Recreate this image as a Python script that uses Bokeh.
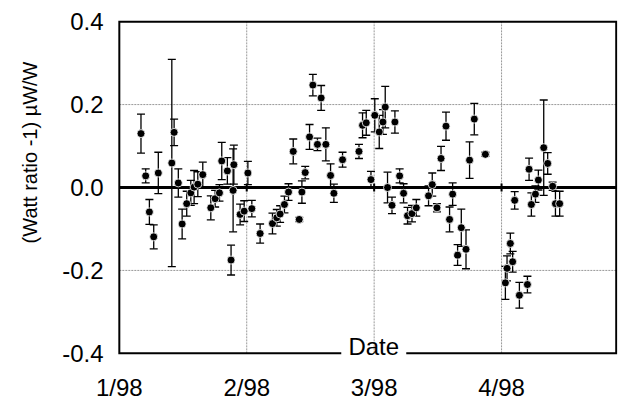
import math
from bokeh.plotting import figure
from bokeh.models import (ColumnDataSource, FixedTicker, NumeralTickFormatter,
                          Label, Range1d, Title)
from bokeh.embed import file_html
from bokeh.resources import INLINE

# x: months after 1/98 (0 = 1/98, 1 = 2/98, ...)
month = [0.170, 0.207, 0.236, 0.270, 0.306, 0.412, 0.430, 0.463, 0.493, 0.529,
         0.561, 0.587, 0.616, 0.655, 0.718, 0.752, 0.786, 0.804, 0.848, 0.877,
         0.893, 0.899, 0.948, 0.980, 1.009, 1.040, 1.105, 1.202, 1.236, 1.262,
         1.296, 1.328, 1.365, 1.412, 1.433, 1.459, 1.493, 1.519, 1.555, 1.584,
         1.621, 1.658, 1.684, 1.752, 1.881, 1.909, 1.938, 1.975, 2.005, 2.040,
         2.069, 2.087, 2.105, 2.140, 2.163, 2.200, 2.231, 2.262, 2.297, 2.331,
         2.427, 2.456, 2.493, 2.525, 2.564, 2.592, 2.616, 2.655, 2.684, 2.721,
         2.749, 2.786, 2.873, 3.030, 3.043, 3.069, 3.087, 3.103, 3.140, 3.203,
         3.216, 3.234, 3.266, 3.289, 3.331, 3.362, 3.401, 3.423, 3.456]
ratio = [0.130, 0.028, -0.059, -0.119, 0.035, 0.059, 0.133, 0.011, -0.088, -0.039,
         -0.013, 0.001, 0.008, 0.031, -0.049, -0.027, -0.013, 0.064, 0.040, -0.175,
         -0.007, 0.055, -0.065, -0.057, 0.035, -0.051, -0.111, -0.087, -0.073, -0.064,
         -0.041, -0.011, 0.087, -0.077, -0.011, 0.036, 0.122, 0.247, 0.104, 0.216,
         0.104, 0.029, -0.014, 0.067, 0.087, 0.150, 0.156, 0.019, 0.174, 0.134,
         0.158, 0.194, 0.000, -0.043, 0.158, 0.028, -0.014, -0.068, -0.063, -0.049,
         -0.020, 0.007, -0.049, 0.070, 0.148, -0.077, -0.016, -0.163, -0.097, -0.149,
         0.066, 0.165, 0.080, -0.230, -0.195, -0.135, -0.179, -0.031, -0.260, -0.234,
         0.044, -0.041, -0.016, 0.018, 0.096, 0.058, 0.003, -0.039, -0.039]
err = [0.047, 0.017, 0.030, 0.029, 0.050, 0.250, 0.032, 0.034, 0.036, 0.030,
       0.030, 0.040, 0.030, 0.030, 0.029, 0.020, 0.020, 0.045, 0.032, 0.036,
       0.100, 0.047, 0.025, 0.025, 0.028, 0.020, 0.023, 0.025, 0.020, 0.020,
       0.020, 0.020, 0.030, 0.005, 0.027, 0.015, 0.030, 0.026, 0.015, 0.030,
       0.040, 0.028, 0.022, 0.018, 0.017, 0.030, 0.030, 0.020, 0.040, 0.040,
       0.030, 0.050, 0.037, 0.020, 0.027, 0.017, 0.023, 0.020, 0.020, 0.020,
       0.024, 0.028, 0.010, 0.029, 0.034, 0.030, 0.027, 0.025, 0.045, 0.047,
       0.044, 0.038, 0.005, 0.040, 0.030, 0.025, 0.025, 0.021, 0.031, 0.020,
       0.027, 0.028, 0.020, 0.024, 0.115, 0.026, 0.010, 0.030, 0.030]

x_ticks = [0, 1, 2, 3]
x_tick_labels = ["1/98", "2/98", "3/98", "4/98"]
y_ticks = [-0.4, -0.2, 0.0, 0.2, 0.4]

X_MIN, X_MAX = 0.0, 3.9      # frame extent (months)
Y_MIN, Y_MAX = -0.4, 0.4     # frame extent
DATE_GAP = (1.742, 2.252)    # break in the bottom frame for the "Date" title

FONT = "Liberation Sans"

src = ColumnDataSource(dict(
    x=month, y=ratio,
    upper=[v + e for v, e in zip(ratio, err)],
    lower=[v - e for v, e in zip(ratio, err)],
))

p = figure(frame_width=502, frame_height=340, output_backend="svg",
           toolbar_location=None,
           x_range=Range1d(-0.03, 3.91), y_range=Range1d(-0.41, 0.41),
           min_border_left=115, min_border_right=1, min_border_top=17,
           min_border_bottom=46)
p.background_fill_color = "white"
p.border_fill_color = "white"
p.outline_line_color = None
p.xgrid.visible = False
p.ygrid.visible = False

p.xaxis.ticker = FixedTicker(ticks=x_ticks)
p.xaxis.major_label_overrides = dict(zip(x_ticks, x_tick_labels))
p.yaxis.ticker = FixedTicker(ticks=y_ticks)
p.yaxis.formatter = NumeralTickFormatter(format="0.0")
for ax in (p.xaxis[0], p.yaxis[0]):
    ax.axis_line_color = None
    ax.major_tick_line_color = None
    ax.minor_tick_line_color = None
    ax.major_tick_out = 0
    ax.major_tick_in = 0
    ax.major_label_text_font = FONT
    ax.major_label_text_font_size = "24px"
    ax.major_label_text_color = "black"
p.xaxis.major_label_standoff = 16
p.yaxis.major_label_standoff = 12

# dotted grid lines (inside the frame only)
gx = [t for t in x_ticks if X_MIN < t < X_MAX]
gy = [t for t in y_ticks if Y_MIN < t < Y_MAX and t != 0]
grid_kw = dict(line_color="#999999", line_width=1, line_dash="2 1")
p.segment(x0=gx, y0=[Y_MIN] * len(gx), x1=gx, y1=[Y_MAX] * len(gx), **grid_kw)
p.segment(x0=[X_MIN] * len(gy), y0=gy, x1=[X_MAX] * len(gy), y1=gy, **grid_kw)

# zero line with small month ticks
p.segment(x0=[X_MIN], y0=[0], x1=[X_MAX], y1=[0], line_color="black", line_width=3)
p.scatter(x=gx, y=[0] * len(gx), marker="dash", angle=math.pi / 2, size=8,
          line_color="black", line_width=2)

# frame (bottom edge broken for the "Date" title)
frame_kw = dict(line_color="black", line_width=2)
p.line(x=[DATE_GAP[0], X_MIN, X_MIN, X_MAX, X_MAX, DATE_GAP[1]],
       y=[Y_MIN, Y_MIN, Y_MAX, Y_MAX, Y_MIN, Y_MIN], line_join="miter", **frame_kw)

# error bars
p.segment(x0="x", y0="lower", x1="x", y1="upper", source=src,
          line_color="black", line_width=1.3)
p.scatter(x="x", y="upper", source=src, marker="dash", size=8,
          line_color="black", line_width=1.3)
p.scatter(x="x", y="lower", source=src, marker="dash", size=8,
          line_color="black", line_width=1.3)
# points
p.scatter(x="x", y="y", source=src, marker="circle", size=8,
          fill_color="black", line_color="white", line_width=0.8)

# x title sitting on the bottom frame
p.add_layout(Label(x=sum(DATE_GAP) / 2, y=Y_MIN, text="Date", text_align="center",
                   text_baseline="alphabetic", y_offset=7, text_font=FONT,
                   text_font_size="24px", text_color="black"))

# y title (rotated, left side)
ytitle = Title(text="(Watt ratio -1) \u00b5W/W", align="right", offset=44,
               text_font=FONT, text_font_size="20px", text_font_style="normal",
               text_color="black")
try:
    ytitle.padding = dict(left=0, right=0, top=0, bottom=14)
except Exception:
    pass
p.add_layout(ytitle, "left")

open("out.html", "w").write(file_html(p, INLINE))
